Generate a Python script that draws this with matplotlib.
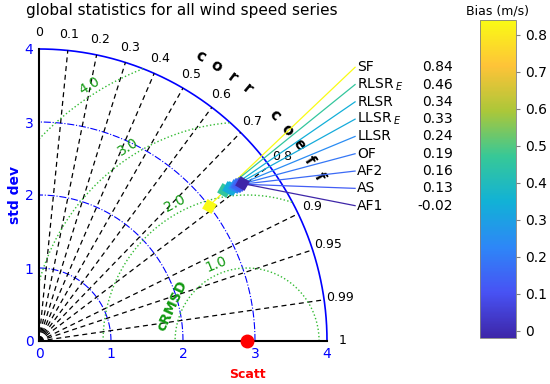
import numpy as np
import matplotlib.pyplot as plt
from matplotlib.colors import LinearSegmentedColormap, Normalize
from matplotlib.cm import ScalarMappable

# Model statistics
models = ['SF', r'RLSR$_{\;E}$', 'RLSR', r'LLSR$_{\;E}$', 'LLSR', 'OF', 'AF2', 'AS', 'AF1']
bias = [0.84, 0.46, 0.34, 0.33, 0.24, 0.19, 0.16, 0.13, -0.02]
sdev = [3.00, 3.30, 3.37, 3.40, 3.45, 3.48, 3.50, 3.52, 3.55]
ccoef = [0.787, 0.780, 0.784, 0.786, 0.789, 0.790, 0.791, 0.792, 0.794]
ref_std = 2.89

corr_ticks = [0, 0.1, 0.2, 0.3, 0.4, 0.5, 0.6, 0.7, 0.8, 0.9, 0.95, 0.99, 1]
std_ticks = [0, 1, 2, 3, 4]
rms_levels = [1.0, 2.0, 3.0, 4.0]

# parula-like colormap
parula = LinearSegmentedColormap.from_list('parula', [
    (0.2422, 0.1504, 0.6603), (0.2810, 0.3228, 0.9578), (0.1786, 0.5289, 0.9682),
    (0.0689, 0.6948, 0.8394), (0.2161, 0.7843, 0.5923), (0.6720, 0.7793, 0.2227),
    (0.9970, 0.7659, 0.2199), (0.9769, 0.9839, 0.0805)])
norm = Normalize(vmin=min(bias), vmax=max(bias))

fig = plt.figure(figsize=(5.5, 3.84), dpi=100)
ax = fig.add_axes([39 / 550, 43 / 384, 288 / 550, 292 / 384])
rmax = 4.0
ax.set_xlim(0, rmax)
ax.set_ylim(0, rmax)

t = np.linspace(0, np.pi / 2, 300)
# std dev arcs
for r in std_ticks[1:-1]:
    ax.plot(r * np.cos(t), r * np.sin(t), color='blue', ls='-.', lw=0.8)
ax.plot(rmax * np.cos(t), rmax * np.sin(t), color='blue', lw=1.2, clip_on=False)

# correlation rays and labels
for c in corr_ticks:
    th = np.arccos(c)
    if 0 < c < 1:
        ax.plot([0, rmax * np.cos(th)], [0, rmax * np.sin(th)], color='black',
                ls=(0, (4, 3)), lw=0.9)
    ax.text(4.22 * np.cos(th), 4.22 * np.sin(th), f'{c:g}', fontsize=9,
            ha='center', va='center', clip_on=False)

# "corr coeff" along the arc
word = 'corr coeff'
for i, ch in enumerate(word):
    a = np.radians(60.1 - i * 3.35)
    ax.text(4.5 * np.cos(a), 4.5 * np.sin(a), ch, fontsize=11, fontweight='bold',
            rotation=np.degrees(a) - 90, ha='center', va='center', clip_on=False)

# centred RMS difference contours
tt = np.linspace(0, np.pi, 600)
lab_ang = [112, 118, 122, 122]
for R, la in zip(rms_levels, lab_ang):
    x = ref_std + R * np.cos(tt)
    y = R * np.sin(tt)
    bad = (x ** 2 + y ** 2 > rmax ** 2) | (x < 0)
    x[bad] = np.nan
    y[bad] = np.nan
    ax.plot(x, y, color='#33bb33', ls=':', lw=1.0)
    a = np.radians(la)
    ax.text(ref_std + (R + 0.13) * np.cos(a), (R + 0.13) * np.sin(a), f'{R:.1f}',
            color='#119911', fontsize=10, rotation=la - 90, ha='center', va='center')
ax.text(1.85, 0.49, 'cRMSD', color='#119911', fontsize=10, fontweight='bold',
        rotation=65, ha='center', va='center')

# reference point
ax.plot(ref_std, 0, 'o', color='red', ms=9, clip_on=False, zorder=6)

# models with leader lines to labels
for i, (m, s, c, b) in enumerate(zip(models, sdev, ccoef, bias)):
    col = parula(norm(b))
    th = np.arccos(c)
    xm, ym = s * np.cos(th), s * np.sin(th)
    yl = 3.75 - i * 0.237
    ax.plot([xm, 4.39], [ym, yl], color=col, lw=0.9, clip_on=False, zorder=4)
    ax.plot(xm, ym, marker=(4, 0, 15), color=col, ms=11, mec='none', zorder=5)
    ax.text(4.42, yl, m, fontsize=10, va='center', clip_on=False)
    ax.text(5.75, yl, f'{b:.2f}', fontsize=10, va='center', ha='right', clip_on=False)

# axes styling
ax.set_xticks(std_ticks)
ax.set_yticks(std_ticks)
ax.tick_params(colors='blue', labelsize=10, length=0, pad=4)
for sp in ['top', 'right']:
    ax.spines[sp].set_visible(False)
for sp in ['left', 'bottom']:
    ax.spines[sp].set_color('black')
    ax.spines[sp].set_linewidth(1.5)
ax.set_ylabel('std dev', color='blue', fontsize=10, fontweight='bold', labelpad=2)
ax.text(ref_std, -0.46, 'Scatt', color='red', fontsize=9, fontweight='bold',
        ha='center', va='center', clip_on=False)

fig.text(26 / 550, 1 - 11 / 384, 'global statistics for all wind speed series',
         fontsize=11, va='center')

# colorbar
cax = fig.add_axes([480 / 550, 46 / 384, 36 / 550, 318 / 384])
sm = ScalarMappable(norm=norm, cmap=parula)
cb = fig.colorbar(sm, cax=cax, ticks=[0, 0.1, 0.2, 0.3, 0.4, 0.5, 0.6, 0.7, 0.8])
cb.set_ticklabels(['0', '0.1', '0.2', '0.3', '0.4', '0.5', '0.6', '0.7', '0.8'])
cb.outline.set_edgecolor('gray')
cb.outline.set_linewidth(0.6)
cax.tick_params(labelsize=10, length=3, color='gray')
cax.set_title('Bias (m/s)', fontsize=9, pad=4)

plt.savefig('out.png', dpi=100)
